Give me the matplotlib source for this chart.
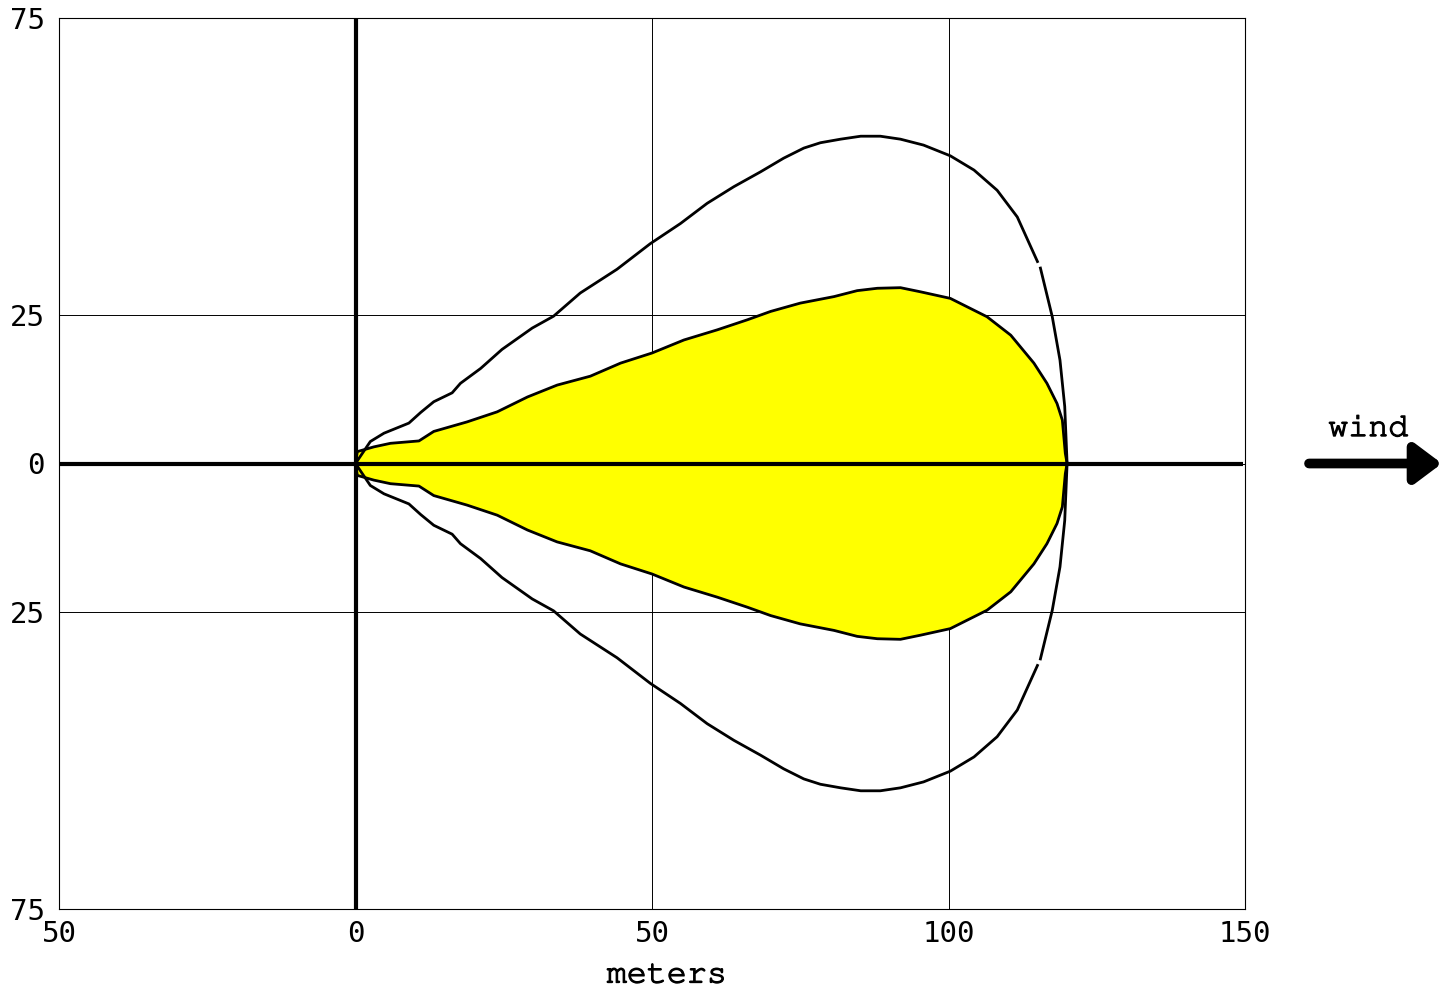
import matplotlib
matplotlib.use("Agg")
import matplotlib.pyplot as plt
import matplotlib.patheffects as pe
from matplotlib import font_manager
import numpy as np

# ---- data (upper half; the plume is symmetric about y=0) ----
outer_x = [0, 2.5, 4.8, 9.0, 11.0, 13.2, 16.3, 17.7, 21.1, 24.7, 29.8, 33.4, 37.9, 44.1,
           49.7, 54.8, 59.3, 63.8, 68.3, 72.2, 75.6, 78.4, 81.8, 85.2, 88.5, 91.9,
           95.8, 100.3, 104.3, 108.2, 111.6, 115.0,
           115.5, 117.5, 118.8, 119.6, 120.0]
outer_y = [0, 3.7, 5.1, 6.8, 8.6, 10.4, 11.9, 13.5, 16.0, 19.2, 22.8, 24.8, 28.7, 32.7,
           37.0, 40.4, 43.8, 46.6, 49.1, 51.4, 53.1, 54.0, 54.6, 55.1, 55.1, 54.6,
           53.6, 51.8, 49.4, 46.0, 41.5, 34.0,
           32.9, 24.7, 17.4, 9.6, 0]
outer_break = 32  # small gap in the outer contour

inner_x = [0, 0.3, 3.1, 5.9, 10.7, 13.2, 18.8, 23.9, 29.0, 34.0, 39.6, 44.7, 50.0, 55.4,
           61.0, 66.1, 70.0, 75.0, 80.7, 84.6, 88.0, 91.9, 95.3, 100.3, 106.5, 110.5,
           114.4, 116.6, 118.3, 119.2, 119.7, 120.0]
inner_y = [0, 2.0, 2.8, 3.4, 3.8, 5.4, 7.0, 8.7, 11.2, 13.2, 14.7, 16.9, 18.6, 20.8,
           22.5, 24.2, 25.6, 27.0, 28.1, 29.1, 29.5, 29.6, 28.9, 27.8, 24.7, 21.6,
           16.9, 13.5, 10.1, 7.3, 1.7, 0]

x_ticks = [-50, 0, 50, 100, 150]
x_ticklabels = ["50", "0", "50", "100", "150"]
y_ticks = [-75, -25, 0, 25, 75]
y_ticklabels = ["75", "25", "0", "25", "75"]

# pick a Courier-like font if one is installed
installed = {f.name for f in font_manager.fontManager.ttflist}
label_font = "Liberation Mono"
for cand in ["Courier New", "Courier", "Nimbus Mono PS", "Nimbus Mono L", "FreeMono"]:
    if cand in installed:
        label_font = cand
        break

# ---- figure ----
fig = plt.figure(figsize=(14.48, 9.89), dpi=100)
ax = fig.add_axes([59/1448, 80/989, (1245-59)/1448, (909-18)/989])
ax.set_xlim(-50, 150)
ax.set_ylim(-75, 75)

ox = np.array(outer_x); oy = np.array(outer_y)
ix = np.array(inner_x); iy = np.array(inner_y)

lw_curve = 2.0
ax.fill_between(ix, -iy, iy, color="#ffff00", zorder=2, linewidth=0)
ax.plot(ix, iy, color="black", lw=lw_curve, zorder=3, solid_joinstyle="round")
ax.plot(ix, -iy, color="black", lw=lw_curve, zorder=3, solid_joinstyle="round")
for sl in (slice(0, outer_break), slice(outer_break, None)):
    ax.plot(ox[sl], oy[sl], color="black", lw=lw_curve, zorder=3, solid_joinstyle="round")
    ax.plot(ox[sl], -oy[sl], color="black", lw=lw_curve, zorder=3, solid_joinstyle="round")

# thick axis lines
ax.plot([-50, 149.6], [0, 0], color="black", lw=3.0, zorder=4, solid_capstyle="butt")
ax.plot([0, 0], [-75, 75], color="black", lw=3.0, zorder=4, solid_capstyle="butt")

ax.set_xticks(x_ticks)
ax.set_xticklabels(x_ticklabels, fontfamily="DejaVu Sans Mono", fontsize=21)
ax.set_yticks(y_ticks)
ax.set_yticklabels(y_ticklabels, fontfamily="DejaVu Sans Mono", fontsize=21)
ax.tick_params(axis="both", length=0)
ax.tick_params(axis="x", pad=8)
ax.tick_params(axis="y", pad=10)
for lab in ax.get_yticklabels():
    lab.set_bbox(dict(facecolor="white", edgecolor="none", pad=0))
ax.grid(True, color="black", lw=0.7)
ax.set_axisbelow(True)
for s in ax.spines.values():
    s.set_linewidth(0.8)

thick = [pe.withStroke(linewidth=0.9, foreground="black")]
ax.text(52.5, -86.2, "meters", ha="center", va="center", fontfamily=label_font,
        fontsize=24, clip_on=False, path_effects=thick)

# wind arrow
ax.annotate("", xy=(183.2, 0), xytext=(160.8, 0), annotation_clip=False,
            arrowprops=dict(arrowstyle="-|>,head_length=0.4,head_width=0.3",
                            mutation_scale=40, lw=7, color="black",
                            capstyle="round", joinstyle="round",
                            shrinkA=0, shrinkB=0))
ax.text(170.8, 5.8, "wind", ha="center", va="center", fontfamily=label_font,
        fontsize=24, clip_on=False, path_effects=thick)

fig.savefig("out.png", dpi=100)
